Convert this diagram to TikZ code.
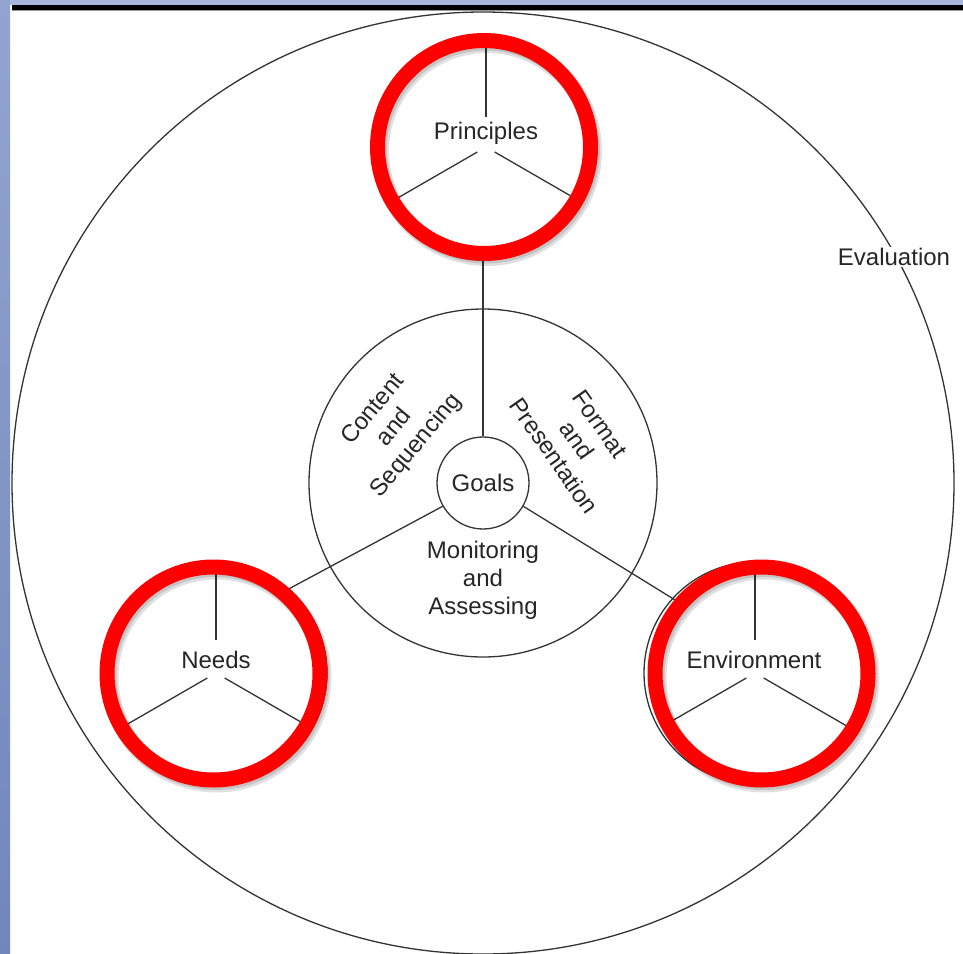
\documentclass[tikz,border=0pt]{standalone}
\usepackage{fontspec}
\setmainfont{Liberation Sans}
\definecolor{linec}{HTML}{333333}
\definecolor{textc}{HTML}{262626}
\definecolor{stripl}{HTML}{93A4D0}
\definecolor{stripd}{HTML}{7386BB}
\definecolor{stript}{HTML}{A8B7DE}
\definecolor{ringred}{HTML}{FF0000}
\begin{document}
\begin{tikzpicture}[x=1pt,y=-1pt,
  ln/.style={draw=linec, line width=1.3pt},
  txt/.style={font=\fontsize{24}{28}\selectfont, text=textc, align=center, inner sep=0pt},
  bigcirc/.style={circle, ln, inner sep=0pt, minimum size=#1},
  redring/.style={circle, draw=ringred, line width=15pt, inner sep=0pt, minimum size=213pt},
  ringshadow/.style={circle, draw=black, line width=17pt, opacity=0.12, inner sep=0pt, minimum size=213pt}]
\useasboundingbox (0,0) rectangle (963,953);
% slide background
\fill[white] (0,0) rectangle (963,953);
\shade[top color=stripl, bottom color=stripd] (0,0) rectangle (10,953);
\fill[stript] (10,0) rectangle (963,5);
\fill[black] (12,5) rectangle (963,10);
\fill[black!40] (12,10) rectangle (963,11.2);
% main circles
\node[bigcirc=942pt] (outer) at (483,483) {};
\node[bigcirc=348pt] (mid) at (483,483) {};
% connector end points (under red rings)
\coordinate (pl) at (483,255);
\coordinate (nl) at (283,592);
\coordinate (el) at (680,603);
\node[bigcirc=92pt, fill=white] (goals) at (483,483) {};
\draw[ln] (goals.north) -- (pl);
\draw[ln] (goals.210) -- (nl);
\draw[ln] (goals.330) -- (el);
\node[txt] (goalstxt) at (483,483) {Goals};
% small circles
\node[bigcirc=222pt] (princ) at (486,147) {};
\node[bigcirc=222pt] (needs) at (216,673) {};
\node[bigcirc=222pt] (env) at (755,673) {};
\foreach \c/\v in {princ/30, needs/33, env/33}{
  \draw[ln] ([shift={(270:\v)}]\c.center) -- ([shift={(270:106)}]\c.center);
  \draw[ln] ([shift={(150:10)}]\c.center) -- ([shift={(150:106)}]\c.center);
  \draw[ln] ([shift={(30:10)}]\c.center) -- ([shift={(30:106)}]\c.center);
}
\node[txt] (princtxt) at (486,133) {Principles};
\node[txt] (needstxt) at (216,660) {Needs};
\node[txt] (envtxt) at (754,660) {Environment};
% sector labels
\node[txt, rotate=50] (content) at (395,428) {Content\\and\\Sequencing};
\node[txt, rotate=-55] (format) at (577,440) {Format\\and\\Presentation};
\node[txt] (monitor) at (483,580) {Monitoring\\and\\Assessing};
\node[txt, fill=white, inner sep=1pt] (evaltxt) at (894,257) {Evaluation};
% red highlight rings
\foreach \n/\x/\y in {pr/484/147, nr/213.5/673.5, er/761.5/673.5}{
  \node[ringshadow] at (\x+3,\y+4) {};
  \node[ringshadow, line width=15pt] at (\x+2,\y+2.5) {};
  \node[redring] (\n) at (\x,\y) {};
}
\end{tikzpicture}
\end{document}
